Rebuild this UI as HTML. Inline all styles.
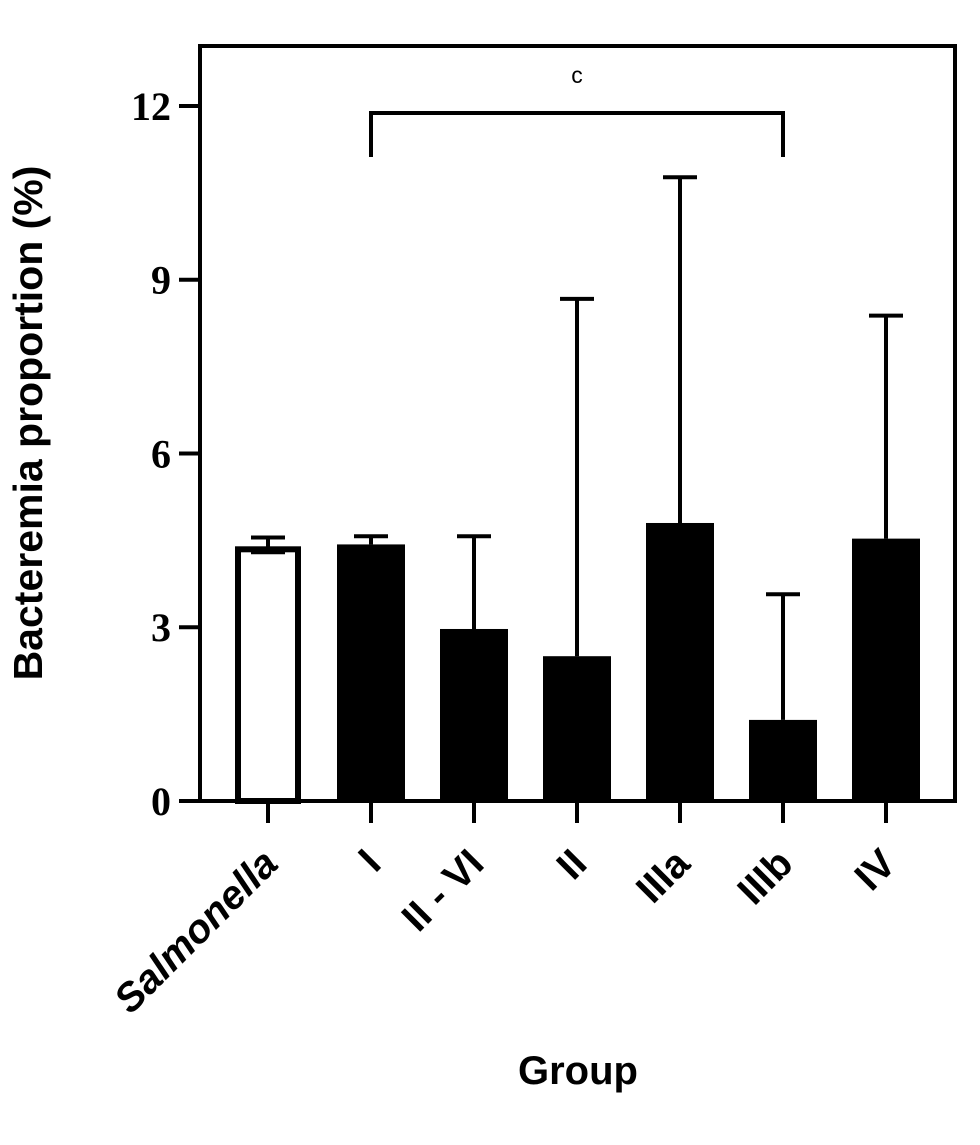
<!DOCTYPE html>
<html><head><meta charset="utf-8"><style>
html,body{margin:0;padding:0;background:#fff;}
svg{display:block;}
</style></head><body>
<svg id="chart" width="980" height="1145" viewBox="0 0 980 1145" xmlns="http://www.w3.org/2000/svg">
<g id="plot"></g>
</svg>
<script>
const categories = ["Salmonella","I","II - VI","II","IIIa","IIIb","IV"];
const values = [4.38, 4.43, 2.97, 2.5, 4.8, 1.4, 4.53];
const errorTops = [4.55, 4.57, 4.57, 8.67, 10.77, 3.57, 8.38];
const yTicks = [0, 3, 6, 9, 12];

const NS = "http://www.w3.org/2000/svg";
const g = document.getElementById('plot');
const y0 = 801, pxPerUnit = 57.92;
function yScale(v){ return y0 - v * pxPerUnit; }
function xScale(i){ return 268 + i * 103; }
function el(tag, attrs, parent){
  const e = document.createElementNS(NS, tag);
  for (const k in attrs) e.setAttribute(k, attrs[k]);
  (parent || g).appendChild(e);
  return e;
}

const frame = el('rect', {x:200, y:46, width:755, height:755, fill:'none', stroke:'#000', 'stroke-width':4});



yTicks.forEach(t => {
  const yy = yScale(t);
  const tk = el('line', {x1:179, x2:200, y1:yy, y2:yy, stroke:'#000', 'stroke-width':4});
  
  
  const lb = el('text', {x:171, y:yy+14, 'text-anchor':'end', 'font-family':'Liberation Serif, serif', 'font-weight':'bold', 'font-size':40, fill:'#000'});
  lb.textContent = t;
  
  
});

const bw = 66;
categories.forEach((c, i) => {
  const cx = xScale(i);
  const top = yScale(values[i]);
  const et = yScale(errorTops[i]);
  const eb = el('line', {x1:cx, x2:cx, y1:top, y2:et, stroke:'#000', 'stroke-width':4});
  
  
  const cap = el('line', {x1:cx-17, x2:cx+17, y1:et, y2:et, stroke:'#000', 'stroke-width':4});
  
  
  let bar;
  if (i === 0) {
    bar = el('rect', {x:cx-bw/2+3, y:top+2, width:bw-6, height:y0-top-2, fill:'#fff', stroke:'#000', 'stroke-width':6});
    const lo = yScale(values[i] - (errorTops[i]-values[i])*0.5);
    const lc = el('line', {x1:cx-17, x2:cx+17, y1:lo, y2:lo, stroke:'#000', 'stroke-width':4});
    
    
  } else {
    bar = el('rect', {x:cx-bw/2-1, y:top, width:bw+2, height:y0-top, fill:'#000'});
  }
  
  
  const xt = el('line', {x1:cx, x2:cx, y1:801, y2:823, stroke:'#000', 'stroke-width':4});
  
  
  const ax = cx + 12, ay = 866;
  const lb = el('text', {x:ax, y:ay, 'text-anchor':'end', transform:'rotate(-45 '+ax+' '+ay+')', 'font-family':'Liberation Sans, sans-serif', 'font-weight':'bold', 'font-size':40, fill:'#000'});
  if (i === 0) lb.setAttribute('font-style', 'italic');
  lb.textContent = c;
  
  
});

const bx1 = xScale(1), bx2 = xScale(5);
const br = el('polyline', {points: bx1+',157 '+bx1+',113 '+bx2+',113 '+bx2+',157', fill:'none', stroke:'#000', 'stroke-width':4});


const sig = el('text', {x:(bx1+bx2)/2, y:83, 'text-anchor':'middle', 'font-family':'Liberation Sans, sans-serif', 'font-size':23, fill:'#000'});
sig.textContent = 'c';



const yt = el('text', {x:42, y:423, 'text-anchor':'middle', transform:'rotate(-90 42 423)', 'font-family':'Liberation Sans, sans-serif', 'font-weight':'bold', 'font-size':41, fill:'#000'});
yt.textContent = 'Bacteremia proportion (%)';


const xtl = el('text', {x:578, y:1084, 'text-anchor':'middle', 'font-family':'Liberation Sans, sans-serif', 'font-weight':'bold', 'font-size':40, fill:'#000'});
xtl.textContent = 'Group';


</script>
</body></html>
